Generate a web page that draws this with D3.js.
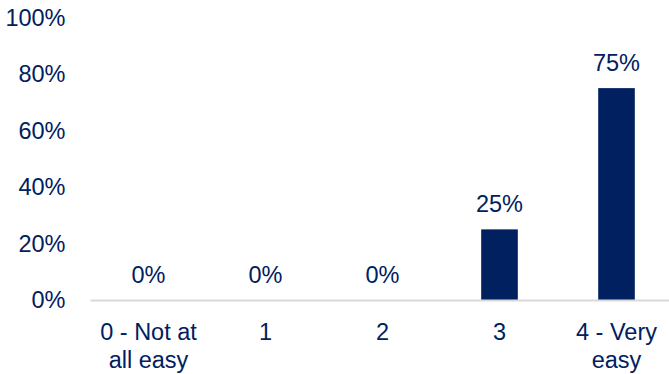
<!DOCTYPE html>
<html>
<head>
<meta charset="utf-8">
<script src="https://cdn.jsdelivr.net/npm/d3@7"></script>
<style>
  body { margin: 0; background: #fff; }
  svg text { font-family: "Liberation Sans", Arial, sans-serif; }
</style>
</head>
<body>
<div id="chart"></div>
<script>
const categories = ["0 - Not at\nall easy", "1", "2", "3", "4 - Very\neasy"];
const values = [0, 0, 0, 25, 75];
const yTicks = [0, 20, 40, 60, 80, 100];

(function() {
  const width = 669;
  const height = 374;
  const navy = "#002060";
  const fontSize = "23.5px";

  const svg = d3.select("#chart").append("svg")
    .attr("width", width)
    .attr("height", height);

  const x = d3.scaleBand()
    .domain(categories)
    .range([90, 675])
    .paddingInner(0.687)
    .paddingOuter(0.3435);

  const y = d3.scaleLinear()
    .domain([0, 100])
    .range([300, 17.5]);

  // y axis: labels only
  const yAxis = svg.append("g")
    .attr("transform", "translate(65.5,0)")
    .call(d3.axisLeft(y).tickValues(yTicks).tickSize(0).tickPadding(0).tickFormat(d => d + "%"));
  yAxis.select(".domain").remove();
  yAxis.selectAll("text")
    .attr("fill", navy)
    .attr("font-size", fontSize)
    .attr("font-family", "Liberation Sans, Arial, sans-serif");

  // bars
  svg.selectAll(".bar")
    .data(values)
    .enter()
    .append("rect")
    .attr("class", "bar")
    .attr("x", (d, i) => x(categories[i]))
    .attr("width", x.bandwidth())
    .attr("y", d => y(d))
    .attr("height", d => y(0) - y(d))
    .attr("fill", navy);

  // x axis
  const xAxis = svg.append("g")
    .attr("transform", `translate(0,${y(0)})`)
    .call(d3.axisBottom(x).tickSize(0).tickFormat(""));
  xAxis.select(".domain")
    .attr("stroke", "#d9d9d9")
    .attr("stroke-width", 2);

  svg.selectAll(".x-label")
    .data(categories)
    .enter()
    .append("text")
    .attr("class", "x-label")
    .attr("text-anchor", "middle")
    .attr("fill", navy)
    .attr("font-size", fontSize)
    .each(function(d) {
      const cx = x(d) + x.bandwidth() / 2;
      const t = d3.select(this);
      d.split("\n").forEach((line, i) => {
        t.append("tspan")
          .attr("x", cx)
          .attr("y", 339.5 + i * 28)
          .text(line);
      });
    });

  // value labels
  svg.selectAll(".value-label")
    .data(values)
    .enter()
    .append("text")
    .attr("class", "value-label")
    .attr("x", (d, i) => x(categories[i]) + x.bandwidth() / 2)
    .attr("y", d => y(d) - 17.5)
    .attr("text-anchor", "middle")
    .attr("fill", navy)
    .attr("font-size", fontSize)
    .text(d => d + "%");
})();
</script>
</body>
</html>
